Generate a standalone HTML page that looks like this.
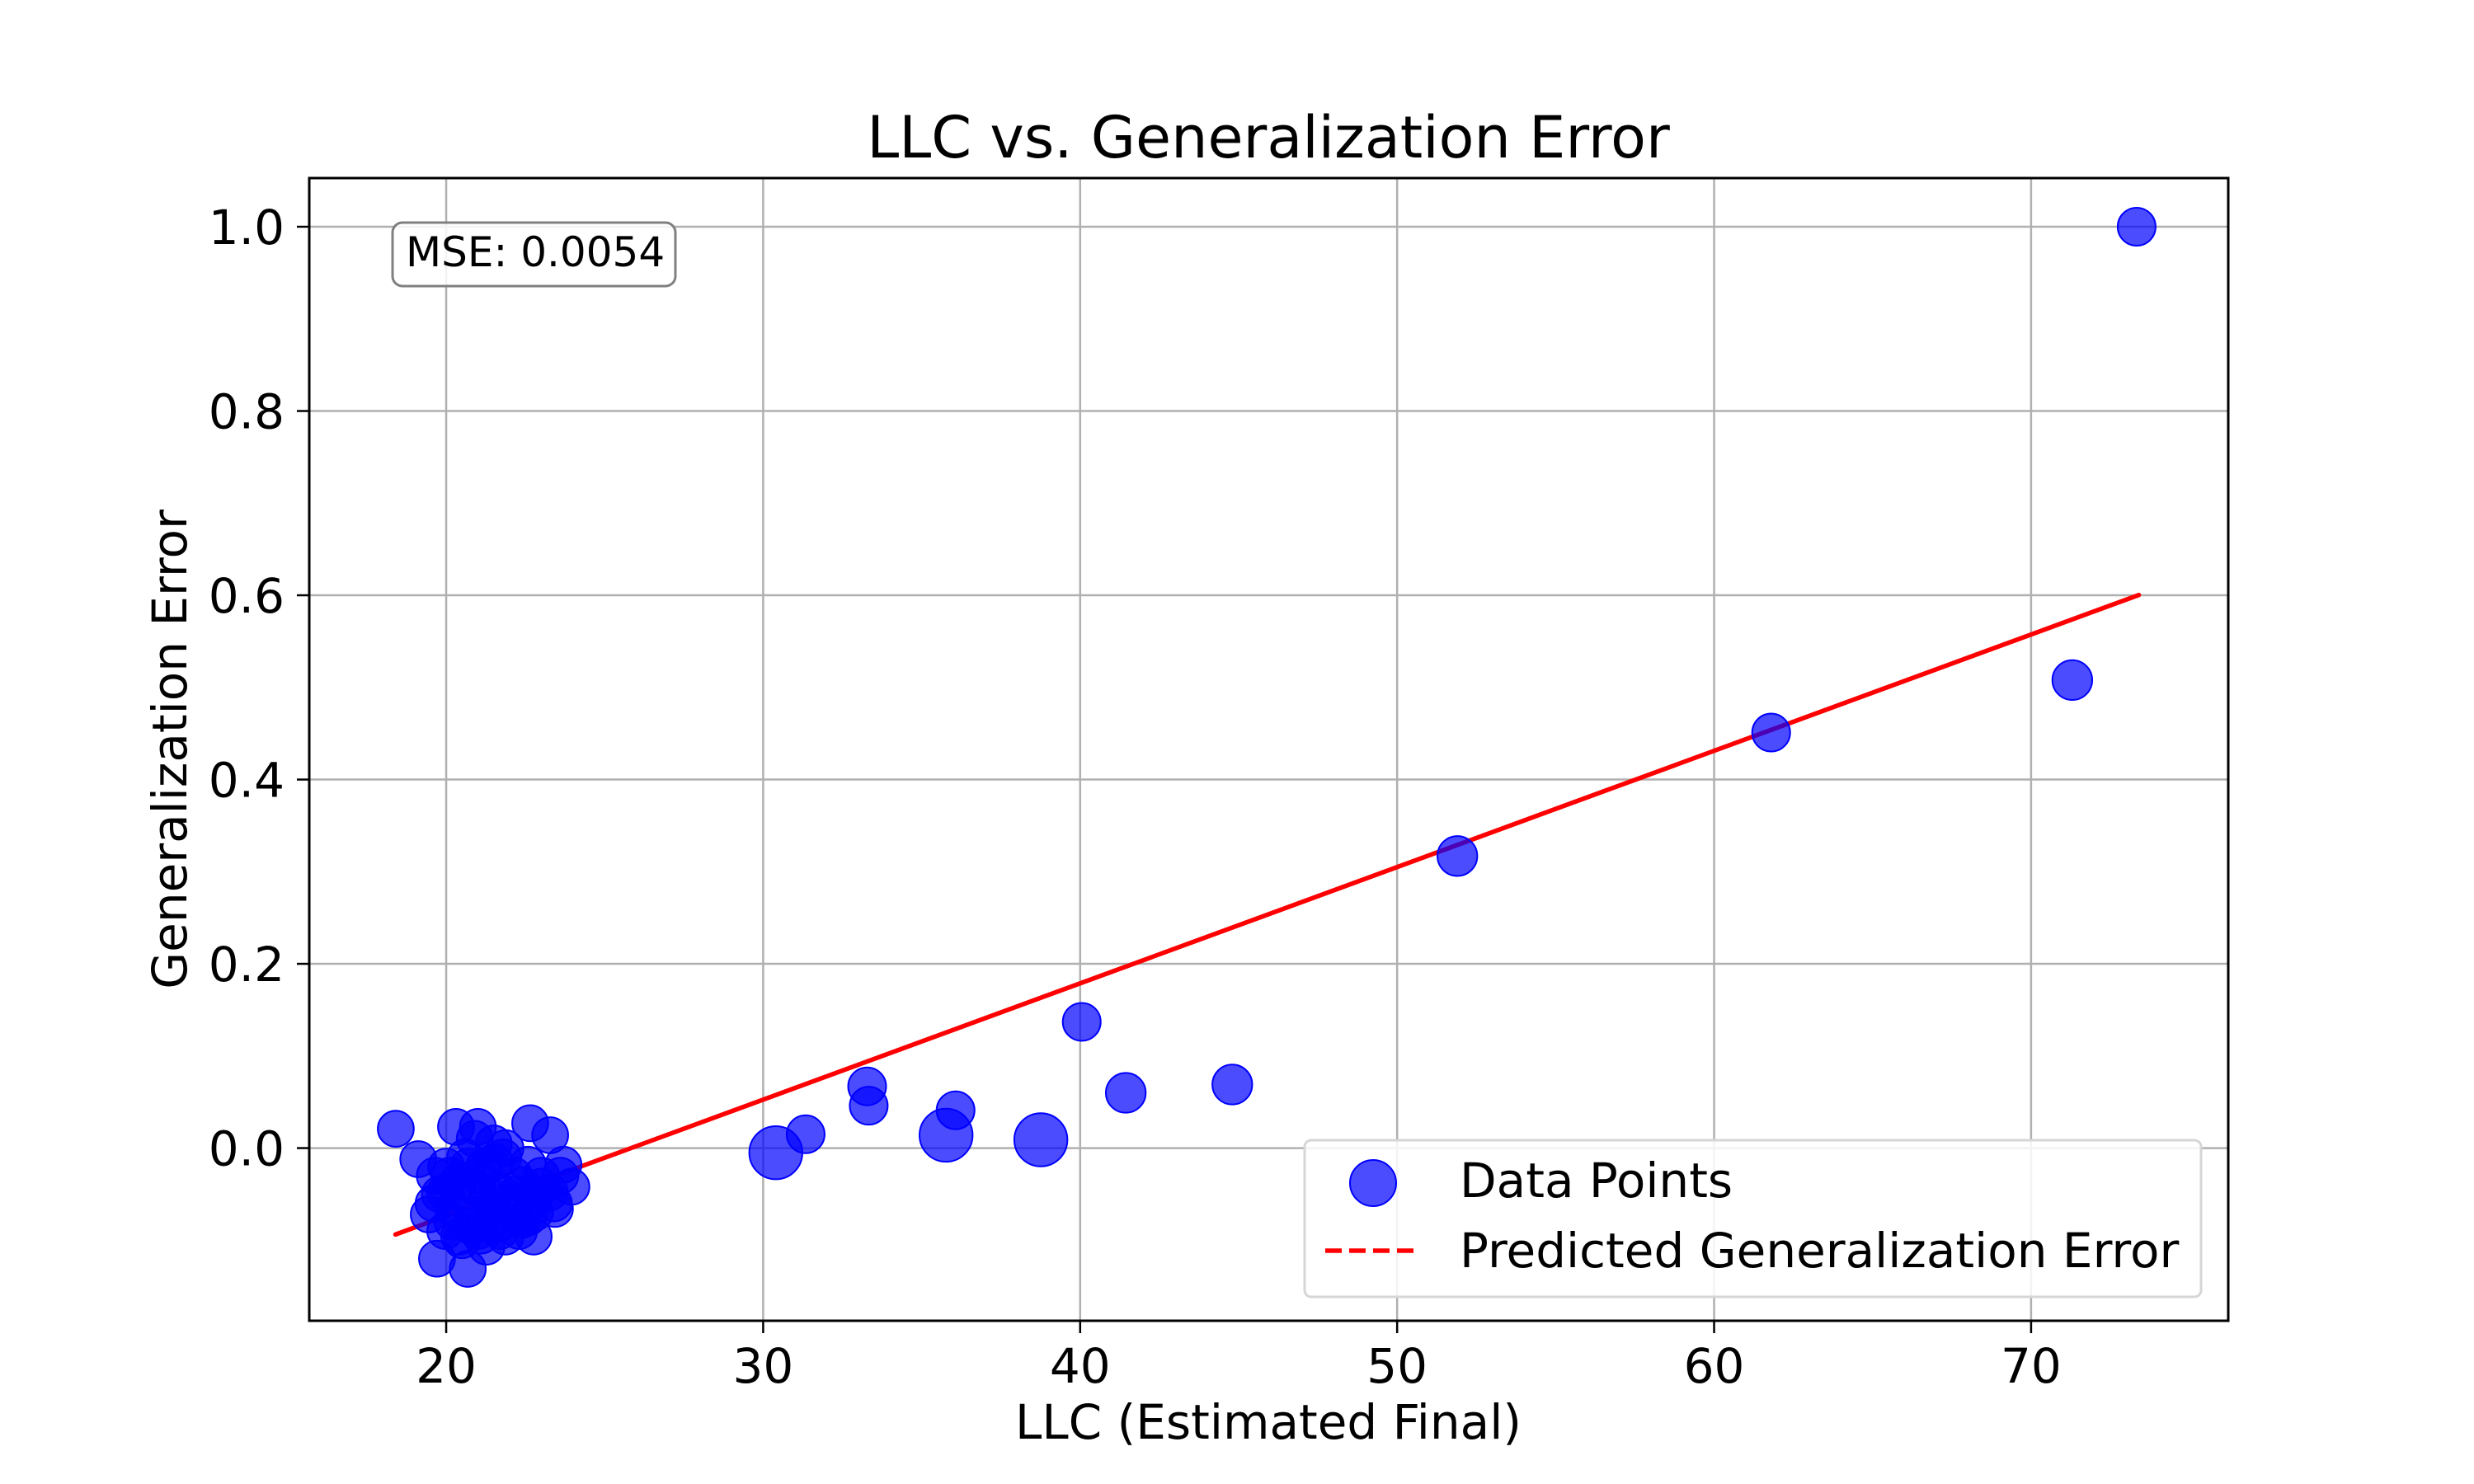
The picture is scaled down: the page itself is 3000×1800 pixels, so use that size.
<!DOCTYPE html>
<html><head><meta charset="utf-8"><style>
html,body{margin:0;padding:0;background:#fff;}
svg{display:block;font-family:"DejaVu Sans","Liberation Sans",sans-serif;}
</style></head><body>
<svg id="chart" width="3000" height="1800" viewBox="0 0 3000 1800" xmlns="http://www.w3.org/2000/svg">
<rect x="0" y="0" width="3000" height="1800" fill="#fff"/>
<text x="1538" y="191" font-size="70" text-anchor="middle" fill="#000">LLC vs. Generalization Error</text>
<g id="grid"></g>
<g id="line"></g>
<g id="pts"></g>
<rect x="375" y="216" width="2327" height="1386" fill="none" stroke="#000" stroke-width="3"/>
<g id="ticks"></g>
<text x="1538" y="1745" font-size="58" text-anchor="middle">LLC (Estimated Final)</text>
<text transform="translate(226,909) rotate(-90)" font-size="58" text-anchor="middle">Generalization Error</text>
<g>
<rect x="476" y="270" width="343" height="77" rx="12" fill="#fff" fill-opacity="0.85" stroke="#808080" stroke-width="3"/>
<text x="492" y="323" font-size="50">MSE: 0.0054</text>
</g>
<g>
<rect x="1582" y="1383" width="1087" height="190" rx="8" fill="#fff" fill-opacity="0.85" stroke="#d6d6d6" stroke-width="3"/>
<circle cx="1665" cy="1435" r="28" fill="#0000ff" fill-opacity="0.7" stroke="#0000ff" stroke-width="2"/>
<text x="1770" y="1452" font-size="58">Data Points</text>
<line x1="1607" y1="1517" x2="1722" y2="1517" stroke="#ff0000" stroke-width="5.5" stroke-dasharray="20,9"/>
<text x="1770" y="1537" font-size="58">Predicted Generalization Error</text>
</g>
</svg>
<script>
const xTicks = [20, 30, 40, 50, 60, 70];
const yTicks = [0.0, 0.2, 0.4, 0.6, 0.8, 1.0];
const yTickLabels = ["0.0", "0.2", "0.4", "0.6", "0.8", "1.0"];
const llc = [73.33, 71.3, 61.8, 51.9, 40.05, 41.44, 44.8, 33.28, 33.33, 36.07, 35.77, 38.76, 30.4, 31.34,
  18.41, 20.31, 21.0, 22.65, 23.28, 21.87, 19.12, 19.64, 23.7, 23.95, 19.45, 23.43, 22.76, 19.71, 20.68, 21.27, 21.87,
  20.41, 21.01, 21.53, 22.14, 22.58, 23.01, 20.23, 20.84, 21.45, 22.23, 22.75, 20.41, 21.01, 21.71, 22.40, 19.97, 23.27, 19.97,
  20.0, 20.6, 21.2, 21.8, 22.4, 23.0, 19.8, 20.4, 21.0, 21.6, 22.2, 22.8, 23.4, 20.2, 20.8, 21.4, 22.0, 22.6, 20.5, 21.1, 21.7, 22.3, 20.1, 20.7, 21.3, 20.9, 21.5, 19.6, 23.6];
const genErr = [1.0, 0.508, 0.451, 0.317, 0.137, 0.060, 0.069, 0.067, 0.046, 0.041, 0.014, 0.009, -0.005, 0.015,
  0.021, 0.023, 0.023, 0.027, 0.014, 0.0, -0.012, -0.03, -0.018, -0.042, -0.072, -0.066, -0.096, -0.12, -0.131, -0.107, -0.096,
  -0.036, -0.030, -0.015, -0.030, -0.018, -0.042, -0.066, -0.072, -0.060, -0.057, -0.057, -0.096, -0.090, -0.081, -0.078, -0.048, -0.048, -0.090,
  -0.02, -0.01, -0.02, -0.01, -0.04, -0.03, -0.05, -0.05, -0.045, -0.045, -0.05, -0.07, -0.06, -0.08, -0.085, -0.07, -0.065, -0.075, -0.10, -0.095, -0.09, -0.09, -0.03, -0.02, -0.05, 0.01, 0.005, -0.06, -0.03];
const markerSize = [1.0, 1.05, 1.0, 1.05, 1.0, 1.05, 1.05, 1.0, 1.0, 1.0, 1.4, 1.4, 1.4, 1.0,
  0.95,0.95,0.95,0.95,0.95,0.95,0.95,0.95,0.95,0.95,0.95,0.95,0.95,0.95,0.95,0.95,0.95,
  0.95,0.95,0.95,0.95,0.95,0.95,0.95,0.95,0.95,0.95,0.95,0.95,0.95,0.95,0.95,0.95,0.95,0.95,
  0.95,0.95,0.95,0.95,0.95,0.95,0.95,0.95,0.95,0.95,0.95,0.95,0.95,0.95,0.95,0.95,0.95,0.95,0.95,0.95,0.95,0.95,0.95,0.95,0.95,0.95,0.95,0.95,0.95];
const fitSlope = 0.01262;
const fitIntercept = -0.326;
const fitRange = [18.4, 73.4];

const NS = "http://www.w3.org/2000/svg";
const L = 375, R = 2702, T = 216, B = 1602;
const xMin = 15.68, xMax = 76.22, yMin = -0.1874, yMax = 1.0528;
const sx = v => L + (v - xMin) / (xMax - xMin) * (R - L);
const sy = v => B - (v - yMin) / (yMax - yMin) * (B - T);
function mk(tag, attrs, parent) {
  const e = document.createElementNS(NS, tag);
  for (const k in attrs) e.setAttribute(k, attrs[k]);
  parent.appendChild(e);
  return e;
}
const grid = document.getElementById('grid'), ticks = document.getElementById('ticks');
xTicks.forEach(t => {
  const x = sx(t);
  const g = mk('line', {x1: x, x2: x, y1: T, y2: B, stroke: '#b0b0b0', 'stroke-width': 2.5}, grid);
  
  
  const tk = mk('line', {x1: x, x2: x, y1: B, y2: B + 15, stroke: '#000', 'stroke-width': 2.5}, ticks);
  
  
  const tx = mk('text', {x: x, y: 1677, 'font-size': 58, 'text-anchor': 'middle'}, ticks);
  tx.textContent = String(t);
  
  
});
yTicks.forEach((t, i) => {
  const y = sy(t);
  const g = mk('line', {x1: L, x2: R, y1: y, y2: y, stroke: '#b0b0b0', 'stroke-width': 2.5}, grid);
  
  
  const tk = mk('line', {x1: L - 15, x2: L, y1: y, y2: y, stroke: '#000', 'stroke-width': 2.5}, ticks);
  
  
  const tx = mk('text', {x: 345, y: y + 21, 'font-size': 58, 'text-anchor': 'end'}, ticks);
  tx.textContent = yTickLabels[i];
  
  
});
const pts = document.getElementById('pts');
llc.forEach((v, i) => {
  const c = mk('circle', {cx: sx(v), cy: sy(genErr[i]), r: 23 * markerSize[i], fill: '#0000ff', 'fill-opacity': 0.7, stroke: '#0000ff', 'stroke-width': 2}, pts);
  
  
});
const ln = document.getElementById('line');
const fl = mk('line', {x1: sx(fitRange[0]), y1: sy(fitIntercept + fitSlope * fitRange[0]), x2: sx(fitRange[1]), y2: sy(fitIntercept + fitSlope * fitRange[1]), stroke: '#ff0000', 'stroke-width': 5.5, 'stroke-linecap': 'round'}, ln);


</script>
</body></html>
